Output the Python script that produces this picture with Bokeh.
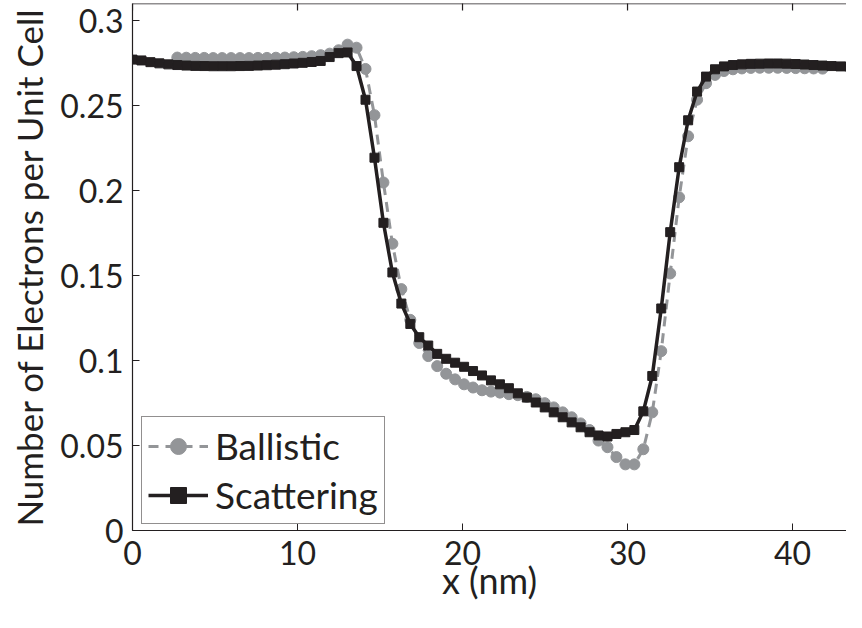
import math
from bokeh.plotting import figure
from bokeh.models import Range1d, FixedTicker, Span
from bokeh.embed import file_html
from bokeh.resources import INLINE

# Silicon lattice spacing used as the grid step (nm)
lattice = 0.5431

scattering = [
    0.2770, 0.2765, 0.2755, 0.2748, 0.2742, 0.2738, 0.2735, 0.2733, 0.2732, 0.2731,
    0.2731, 0.2731, 0.2732, 0.2733, 0.2735, 0.2737, 0.2740, 0.2743, 0.2747, 0.2751,
    0.2756, 0.2762, 0.2785, 0.2808, 0.2812, 0.2732, 0.2534, 0.2193, 0.1810, 0.1518,
    0.1335, 0.1215, 0.1137, 0.1088, 0.1039, 0.1010, 0.0987, 0.0963, 0.0938, 0.0912,
    0.0883, 0.0860, 0.0837, 0.0807, 0.0782, 0.0753, 0.0724, 0.0695, 0.0666, 0.0636,
    0.0607, 0.0578, 0.0559, 0.0553, 0.0568, 0.0578, 0.0591, 0.0701, 0.0909, 0.1306,
    0.1755, 0.2137, 0.2413, 0.2582, 0.2670, 0.2713, 0.2730, 0.2738, 0.2742, 0.2745,
    0.2746, 0.2747, 0.2747, 0.2746, 0.2744, 0.2741, 0.2738, 0.2735, 0.2732, 0.2730,
    0.2729, 0.2728, 0.2727,
]
scattering_start = 0

ballistic = [
    0.2782, 0.2781, 0.2780, 0.2780, 0.2779, 0.2779, 0.2779, 0.2779, 0.2779, 0.2780,
    0.2780, 0.2781, 0.2782, 0.2784, 0.2786, 0.2790, 0.2796, 0.2805, 0.2825, 0.2858,
    0.2840, 0.2715, 0.2443, 0.2047, 0.1687, 0.1420, 0.1239, 0.1103, 0.1026, 0.0967,
    0.0922, 0.0889, 0.0860, 0.0841, 0.0825, 0.0817, 0.0811, 0.0802, 0.0796, 0.0786,
    0.0772, 0.0749, 0.0724, 0.0695, 0.0666, 0.0630, 0.0591, 0.0529, 0.0490, 0.0432,
    0.0389, 0.0389, 0.0478, 0.0695, 0.1055, 0.1512, 0.1960, 0.2319, 0.2534, 0.2631,
    0.2680, 0.2703, 0.2713, 0.2718, 0.2721, 0.2722, 0.2722, 0.2722, 0.2721, 0.2720,
    0.2719, 0.2718, 0.2717,
]
ballistic_start = 5

x_ticks = [0, 10, 20, 30, 40]
y_ticks = [0, 0.05, 0.1, 0.15, 0.2, 0.25, 0.3]
y_tick_labels = {0: "0", 0.05: "0.05", 0.1: "0.1", 0.15: "0.15", 0.2: "0.2", 0.25: "0.25", 0.3: "0.3"}

x_scat = [(scattering_start + i) * lattice for i in range(len(scattering))]
x_ball = [(ballistic_start + i) * lattice for i in range(len(ballistic))]

FONT = "Lato"
TICK_FS = "32px"
YLABEL_FS = "35px"
XLABEL_FS = "36px"
LEG_FS = "37px"
INK = "#231f20"
GRAY = "#939598"

X_END = 43.27
Y_END = 0.31

p = figure(width=846, height=612, output_backend="svg", toolbar_location=None,
           x_range=Range1d(0, X_END), y_range=Range1d(0, Y_END),
           min_border_left=132, min_border_right=0, min_border_top=3, min_border_bottom=82,
           x_axis_label="x (nm)", y_axis_label="Number of Electrons per Unit Cell")
p.outline_line_color = None
p.grid.visible = False
p.background_fill_color = "white"
p.border_fill_color = "white"

# Ballistic (gray dashed, circles)
p.line(x_ball, ballistic, line_color=GRAY, line_width=3, line_dash="10 7", legend_label="Ballistic")
p.scatter(x_ball, ballistic, marker="circle", size=11, fill_color=GRAY, line_color=GRAY, legend_label="Ballistic")

# Scattering (black solid, squares)
p.line(x_scat, scattering, line_color=INK, line_width=3.5, legend_label="Scattering")
p.scatter(x_scat, scattering, marker="square", size=9, fill_color=INK, line_color=INK, legend_label="Scattering")

# top border of the box with inward ticks
p.add_layout(Span(location=Y_END, dimension="width", line_color=INK, line_width=1.5))
p.scatter(x_ticks, [Y_END] * len(x_ticks), marker="dash", angle=math.pi / 2, size=14,
          line_color=INK, line_width=1.2)

for ax in (p.xaxis[0], p.yaxis[0]):
    ax.axis_line_color = INK
    ax.axis_line_width = 1.2
    ax.major_tick_in = 7
    ax.major_tick_out = 0
    ax.minor_tick_line_color = None
    ax.major_tick_line_color = INK
    ax.major_label_text_font = FONT
    ax.major_label_text_font_size = TICK_FS
    ax.major_label_text_color = INK
    ax.axis_label_text_font = FONT
    ax.axis_label_text_font_style = "normal"
    ax.axis_label_text_color = INK

p.xaxis.axis_label_text_font_size = XLABEL_FS
p.yaxis.axis_label_text_font_size = YLABEL_FS
p.xaxis.ticker = FixedTicker(ticks=x_ticks)
p.yaxis.ticker = FixedTicker(ticks=y_ticks)
p.yaxis.major_label_overrides = y_tick_labels
p.xaxis.major_label_standoff = 10
p.xaxis.axis_label_standoff = -10
p.yaxis.major_label_standoff = 9
p.yaxis.axis_label_standoff = 7

leg = p.legend[0]
leg.location = (9, 6)
leg.label_text_font = FONT
leg.label_text_font_size = LEG_FS
leg.label_text_color = INK
leg.border_line_color = INK
leg.border_line_width = 1.2
leg.background_fill_alpha = 1
leg.padding = 6
leg.spacing = 4
leg.margin = 0
leg.glyph_width = 60
leg.glyph_height = 40
leg.label_height = 40
leg.label_standoff = 7

open("out.html", "w").write(file_html(p, INLINE))
